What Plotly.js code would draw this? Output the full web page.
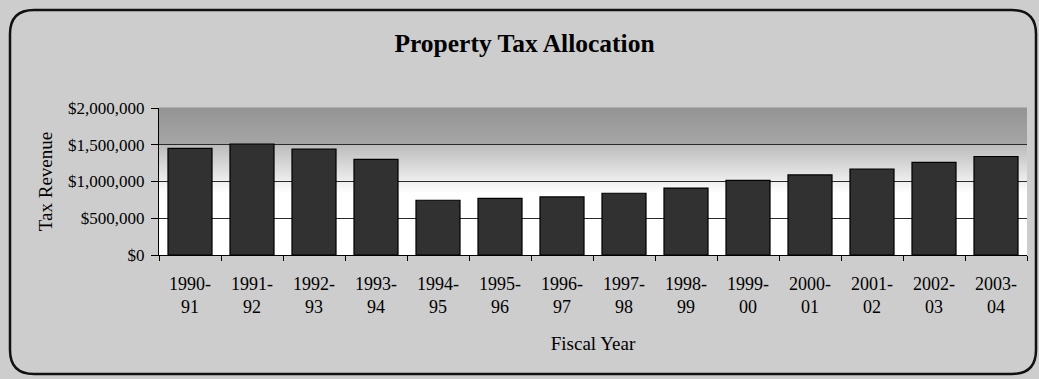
<!DOCTYPE html>
<html>
<head>
<meta charset="utf-8">
<script src="https://cdn.plot.ly/plotly-3.0.1.min.js"></script>
<style>
  html, body { margin: 0; padding: 0; background: #cdcdcd; }
  #chart { width: 1039px; height: 379px; }
</style>
</head>
<body>
<div id="chart"></div>
<script>
// Property tax allocation by fiscal year
const fiscalYears = ["1990-91", "1991-92", "1992-93", "1993-94", "1994-95", "1995-96", "1996-97",
                     "1997-98", "1998-99", "1999-00", "2000-01", "2001-02", "2002-03", "2003-04"];
const taxRevenue = [1450000, 1510000, 1440000, 1300000, 745000, 770000, 790000,
                    840000, 910000, 1015000, 1090000, 1170000, 1260000, 1340000];
const revenueTickValues = [0, 500000, 1000000, 1500000, 2000000];
const revenueTickLabels = ["$0", "$500,000", "$1,000,000", "$1,500,000", "$2,000,000"];

// Two-line category labels: "1990-" over "91"
const yearLabels = fiscalYears.map(f => f.replace("-", "-<br>"));

const W = 1039, H = 379;
const M = { l: 159, r: 12, t: 108, b: 124 };
const plotW = W - M.l - M.r, plotH = H - M.t - M.b;
const px = x => (x - M.l) / plotW;          // pixel x -> paper x
const py = y => (H - M.b - y) / plotH;      // pixel y -> paper y

const serif = "'Liberation Serif', 'Times New Roman', Times, serif";

// Plot-area fill: grey at the top fading to white lower down
const gradStops = [
  [1.00, [148, 148, 148]],
  [0.75, [166, 166, 166]],
  [0.745, [188, 188, 188]],
  [0.62, [214, 214, 214]],
  [0.50, [238, 238, 238]],
  [0.42, [255, 255, 255]],
  [0.00, [255, 255, 255]]
];
function shadeAt(f) {
  for (let i = 0; i < gradStops.length - 1; i++) {
    const [f0, c0] = gradStops[i], [f1, c1] = gradStops[i + 1];
    if (f <= f0 && f >= f1) {
      const t = f0 === f1 ? 0 : (f0 - f) / (f0 - f1);
      const c = c0.map((v, k) => Math.round(v + (c1[k] - v) * t));
      return `rgb(${c[0]},${c[1]},${c[2]})`;
    }
  }
  return "rgb(255,255,255)";
}
const shapes = [];
const slices = 147;
for (let i = 0; i < slices; i++) {
  const y0 = i / slices, y1 = (i + 1) / slices;
  shapes.push({
    type: "rect", xref: "paper", yref: "paper", layer: "below",
    x0: 0, x1: 1, y0: y0, y1: y1 + 0.004,
    fillcolor: shadeAt((y0 + y1) / 2), line: { width: 0 }
  });
}

// Rounded outer frame
const fx0 = 10, fx1 = 1036, fy0 = 10, fy1 = 374, rad = 24;
const P = (x, y) => `${px(x)},${py(y)}`;
const framePath =
  `M ${P(fx0 + rad, fy0)} L ${P(fx1 - rad, fy0)} Q ${P(fx1, fy0)} ${P(fx1, fy0 + rad)} ` +
  `L ${P(fx1, fy1 - rad)} Q ${P(fx1, fy1)} ${P(fx1 - rad, fy1)} ` +
  `L ${P(fx0 + rad, fy1)} Q ${P(fx0, fy1)} ${P(fx0, fy1 - rad)} ` +
  `L ${P(fx0, fy0 + rad)} Q ${P(fx0, fy0)} ${P(fx0 + rad, fy0)} Z`;
shapes.push({
  type: "path", xref: "paper", yref: "paper", layer: "above",
  path: framePath, line: { color: "#111", width: 2.5 }
});

const trace = {
  type: "bar",
  x: yearLabels,
  y: taxRevenue,
  marker: { color: "#313131", line: { color: "#000", width: 1.2 } },
  hoverinfo: "x+y"
};

const layout = {
  width: W, height: H,
  margin: M,
  paper_bgcolor: "#cdcdcd",
  plot_bgcolor: "rgba(0,0,0,0)",
  showlegend: false,
  bargap: 0.29,
  font: { family: serif, color: "#000" },
  title: {
    text: "<b>Property Tax Allocation</b>",
    font: { family: serif, size: 25.5, color: "#000" },
    x: 524.5 / W, xref: "container", xanchor: "center",
    y: 1 - 43 / H, yref: "container", yanchor: "middle"
  },
  xaxis: {
    type: "category",
    tickson: "boundaries",
    ticks: "outside", ticklen: 5, tickcolor: "#000", tickwidth: 1,
    ticklabelstandoff: 12,
    showline: true, linecolor: "#000", linewidth: 1,
    showgrid: false,
    tickfont: { family: serif, size: 18, color: "#000" },
    title: { text: "Fiscal Year", font: { family: serif, size: 19, color: "#000" }, standoff: 20 },
    automargin: false,
    fixedrange: true
  },
  yaxis: {
    range: [0, 2000000],
    tickmode: "array",
    tickvals: revenueTickValues,
    ticktext: revenueTickLabels,
    ticks: "outside", ticklen: 7, tickcolor: "#000", tickwidth: 1,
    ticklabelstandoff: 3,
    showline: true, linecolor: "#000", linewidth: 1,
    showgrid: true, gridcolor: "#2a2a2a", gridwidth: 1,
    zeroline: false,
    tickfont: { family: serif, size: 17, color: "#000" },
    title: { text: "Tax Revenue", font: { family: serif, size: 19, color: "#000" }, standoff: 10 },
    automargin: false,
    fixedrange: true
  },
  shapes: shapes
};

Plotly.newPlot("chart", [trace], layout, { displayModeBar: false, staticPlot: true });
</script>
</body>
</html>
